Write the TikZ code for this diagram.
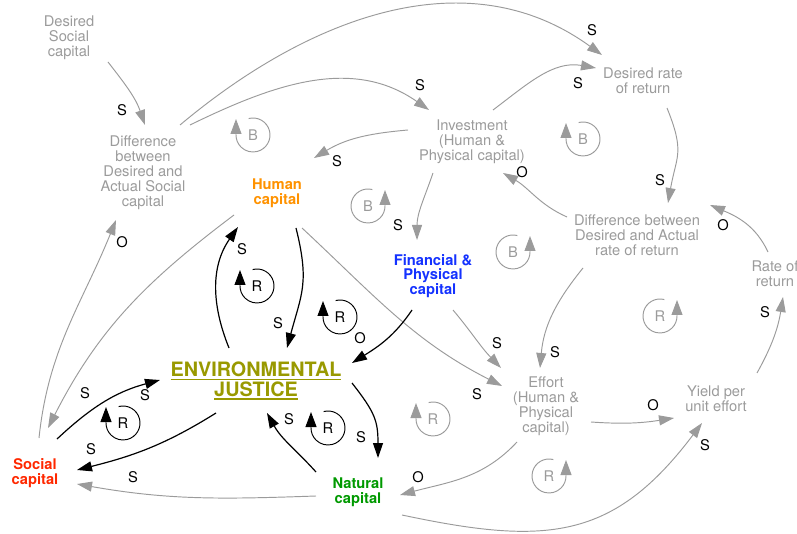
\documentclass[tikz,border=0pt]{standalone}
\usepackage{fontspec}
\setmainfont{TeX Gyre Heros}
\usetikzlibrary{arrows.meta,calc}

\definecolor{linkgray}{RGB}{155,155,155}
\definecolor{humorange}{RGB}{255,146,0}
\definecolor{finblue}{RGB}{20,50,255}
\definecolor{ejolive}{RGB}{153,153,0}
\definecolor{socred}{RGB}{255,40,0}
\definecolor{natgreen}{RGB}{0,153,0}

% thick underline for the central variable
\newcommand\ejline[1]{\setbox0\hbox{#1}\rlap{\rule[-3.2pt]{\wd0}{1.6pt}}\box0}

\begin{document}
\begin{tikzpicture}[x=1pt,y=1pt,>={Triangle[length=15pt,width=10pt]},
    every node/.style={font=\fontsize{14.7}{15}\selectfont},
    var/.style={align=center,text=linkgray,inner sep=0pt},
    stock/.style={align=center,inner sep=0pt,font=\fontsize{14.7}{14.5}\selectfont\bfseries},
    glink/.style={->,linkgray,line width=0.95pt},
    blink/.style={->,black,line width=1.2pt},
    loopmark/.style={line width=0.95pt,-{Triangle[length=15pt,width=11pt]}}]
  \useasboundingbox (0,0) rectangle (797,533);

  % variables
  \node[var] (dsc) at (69,495) {Desired\\Social\\capital};
  \node[var] (dsd) at (143,360) {Difference\\between\\Desired and\\Actual Social\\capital};
  \node[var] (inv) at (472,391) {Investment\\(Human \&\\Physical capital)};
  \node[var] (drr) at (643,452) {Desired rate\\of return};
  \node[var] (ddr) at (637,298) {Difference between\\Desired and Actual\\rate of return};
  \node[var] (ror) at (775,259) {Rate of\\return};
  \node[var] (eff) at (546,127) {Effort\\(Human \&\\Physical\\capital)};
  \node[var] (yld) at (716,134) {Yield per\\unit effort};

  % capitals
  \node[stock,text=humorange] (hum) at (277,340) {Human\\capital};
  \node[stock,text=finblue] (fin) at (433,257) {Financial \&\\Physical\\capital};
  \node[stock,text=socred] (soc) at (35,60) {Social\\capital};
  \node[stock,text=natgreen] (nat) at (358,41) {Natural\\capital};
  \node[stock,text=ejolive,font=\fontsize{19.8}{19.5}\selectfont\bfseries] (ej) at (256,152)
    {\ejline{ENVIRONMENTAL}\\\ejline{JUSTICE}};

  % gray links
  \draw[glink] ($(dsc)+(39,-24)$) to[out=-52,in=109] ($(dsd)+(2,48)$);
  \draw[glink] ($(dsd)+(37,48)$) to[out=40,in=144] ($(drr)+(-41,26)$);
  \draw[glink] ($(dsd)+(47,48)$) to[out=26,in=145] ($(inv)+(-43,32)$);
  \draw[glink] ($(inv)+(-64,12)$) to[out=185,in=31] ($(hum)+(37,35)$);
  \draw[glink] ($(inv)+(21,32)$) to[out=37,in=170] ($(drr)+(-47,13)$);
  \draw[glink] ($(inv)+(-39,-31)$) to[out=251,in=90] ($(fin)+(-16,36)$);
  \draw[glink] ($(drr)+(24,-27)$) to[out=-68,in=80,looseness=1.3] ($(ddr)+(31,32)$);
  \draw[glink] ($(ddr)+(-70,18)$) to[out=156,in=330] ($(inv)+(31,-31)$);
  \draw[glink] ($(ddr)+(-54,-33)$) to[out=231,in=85] ($(eff)+(-6,38)$);
  \draw[glink] ($(ror)+(-7,22)$) to[out=115,in=337] ($(ddr)+(73,30)$);
  \draw[glink] ($(yld)+(41,26)$) to[out=61,in=-99] ($(ror)+(8,-23)$);
  \draw[glink] ($(eff)+(45,-16)$) to[out=-4,in=189] ($(yld)+(-42,-19)$);
  \draw[glink] ($(nat)+(44,-23)$) to[out=-12,in=233,looseness=1.2] ($(yld)+(-14,-24)$);
  \draw[glink] ($(eff)+(-29,-36)$) to[out=227,in=15] ($(nat)+(42,-3)$);
  \draw[glink] ($(fin)+(20,-34)$) to[out=-50,in=134] ($(eff)+(-45,38)$);
  \draw[glink] ($(hum)+(25,-35)$) to[out=-43,in=153] ($(eff)+(-44,20)$);
  \draw[glink] ($(soc)+(4,35)$) to[out=84,in=248] ($(dsd)+(-27,-47)$);
  \draw[glink] ($(hum)+(-43,-22)$) to[out=217,in=63] ($(soc)+(13,45)$);
  \draw[glink] ($(nat)+(-42,-4)$) to[out=182,in=350] ($(soc)+(42,-11)$);

  % black links
  \draw[blink] ($(hum)+(19,-35)$) to[out=-76,in=75,looseness=1.2] ($(ej)+(31,33)$);
  \draw[blink] ($(ej)+(-27,33)$) to[out=112,in=235] ($(hum)+(-39,-34)$);
  \draw[blink] ($(fin)+(-21,-34)$) to[out=236,in=32] ($(ej)+(96,18)$);
  \draw[blink] ($(ej)+(96,-2)$) to[out=-52,in=90,looseness=1.2] ($(nat)+(20,34)$);
  \draw[blink] ($(nat)+(-42,20)$) to[out=132,in=299] ($(ej)+(11,-32)$);
  \draw[blink] ($(soc)+(22,34)$) to[out=43,in=195] ($(ej)+(-96,1)$);
  \draw[blink] ($(ej)+(-40,-32)$) to[out=212,in=14] ($(soc)+(42,3)$);

  % polarities
  \foreach \x/\y/\t [count=\i] in {122/423/S, 592/503/S, 420/448/S, 337/372/S, 578/450/S,
      398/308/S, 660/353/S, 522/361/O, 555/181/S, 723/308/O, 765/221/S, 653/128/O,
      705/88/S, 418/56/O, 497/190/S, 477/139/S, 122/291/O, 85/140/S, 133/56/S,
      278/210/S, 242/284/S, 360/195/O, 361/96/S, 289/114/S, 145/138/S, 91/84/S}
    \node (pol\i) at (\x,\y) {\t};

  % loop markers, clockwise
  \foreach \x/\y/\t/\c [count=\i] in {253/398/B/linkgray, 583/394/B/linkgray,
      257/247/R/black, 340/216/R/black, 123/110/R/black, 328/105/R/black, 433/114/R/linkgray} {
    \draw[loopmark,\c] (\x,\y) ++(105:17) arc[start angle=105,end angle=-180,radius=17] -- ++(0,16);
    \node[text=\c] (cw\i) at (\x,\y) {\t};
  }
  % loop markers, counter-clockwise
  \foreach \x/\y/\t [count=\i] in {368/327/B, 513/281/B, 549/57/R, 660/217/R} {
    \draw[loopmark,linkgray] (\x,\y) ++(75:17) arc[start angle=75,end angle=360,radius=17] -- ++(0,16);
    \node[text=linkgray] (ccw\i) at (\x,\y) {\t};
  }
\end{tikzpicture}
\end{document}
